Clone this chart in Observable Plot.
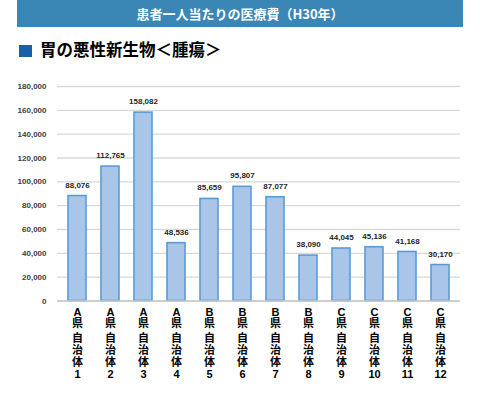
<!DOCTYPE html>
<html>
<head>
<meta charset="utf-8">
<script src="https://cdn.jsdelivr.net/npm/d3@7"></script>
<script src="https://cdn.jsdelivr.net/npm/@observablehq/plot@0.6"></script>
<style>
  body { margin: 0; background: #fff; font-family: "Liberation Sans", "Noto Sans CJK JP", sans-serif; }
  #wrap { position: relative; width: 480px; height: 397px; overflow: hidden; }
  #banner { position: absolute; left: 17px; top: 0; width: 446px; height: 27px; background: #3a86b5;
    color: #fff; font-weight: bold; font-size: 13px; line-height: 28px; text-align: center;
    font-family: "Noto Sans CJK JP", sans-serif; }
  #sub { position: absolute; left: 19px; top: 38px; height: 22px; font-weight: bold; font-size: 16.5px;
    line-height: 22px; font-family: "Noto Sans CJK JP", sans-serif; color: #000; }
  #sub .sq { display: inline-block; width: 13px; height: 12px; background: #1a5ea8; margin-right: 8px; vertical-align: -1px; }
  #chart { position: absolute; left: 0; top: 62px; }
</style>
</head>
<body>
<div id="wrap">
  <div id="banner">患者一人当たりの医療費（H30年）</div>
  <div id="sub"><span class="sq"></span>胃の悪性新生物＜腫瘍＞</div>
  <div id="chart"></div>
</div>
<script>
const prefectures = ["A","A","A","A","B","B","B","B","C","C","C","C"];
const municipalityNumbers = ["1","2","3","4","5","6","7","8","9","10","11","12"];
const values = [88076, 112765, 158082, 48536, 85659, 95807, 87077, 38090, 44045, 45136, 41168, 30170];
const yTicks = [0, 20000, 40000, 60000, 80000, 100000, 120000, 140000, 160000, 180000];

const data = values.map((v, i) => ({
  key: prefectures[i] + "県自治体" + municipalityNumbers[i],
  top: prefectures[i] + "\n県",
  bottom: "自\n治\n体\n" + municipalityNumbers[i],
  value: v
}));
const fmt = d3.format(",");

const plot = Plot.plot({
  width: 480,
  height: 335,
  marginTop: 24,
  marginBottom: 96.5,
  marginLeft: 57,
  marginRight: 20,
  style: { fontFamily: "'Liberation Sans', 'Noto Sans CJK JP', sans-serif", background: "transparent" },
  x: { domain: data.map(d => d.key), paddingInner: 0.455, paddingOuter: 0.233, axis: null },
  y: { domain: [0, 180000], axis: null },
  marks: [
    Plot.gridY(yTicks, { stroke: "#d9d9d9", strokeOpacity: 1, strokeWidth: 1.3 }),
    Plot.axisY(yTicks, { tickSize: 0, tickPadding: 11, tickFormat: d => d === 0 ? "0" : fmt(d),
      fontSize: 8, fontWeight: "bold", fill: "#404040", label: null }),
    Plot.barY(data, { x: "key", y: "value", fill: "#a9c5e8", stroke: "#5b9bd5", strokeWidth: 1.6 }),
    Plot.ruleY([0], { stroke: "#c8c8c8", strokeWidth: 1.3 }),
    Plot.text(data, { x: "key", y: "value", text: d => fmt(d.value), dy: -11, fontSize: 8,
      fontWeight: "bold", fill: "#262626" }),
    Plot.text(data, { x: "key", text: "top", frameAnchor: "bottom", lineAnchor: "top", dy: 6.5,
      fontSize: 11, lineHeight: 1.06, fontWeight: "bold", fill: "#000" }),
    Plot.text(data, { x: "key", text: "bottom", frameAnchor: "bottom", lineAnchor: "top", dy: 32,
      fontSize: 11, lineHeight: 1.1, fontWeight: "bold", fill: "#000" })
  ]
});
document.getElementById("chart").appendChild(plot);
</script>
</body>
</html>
